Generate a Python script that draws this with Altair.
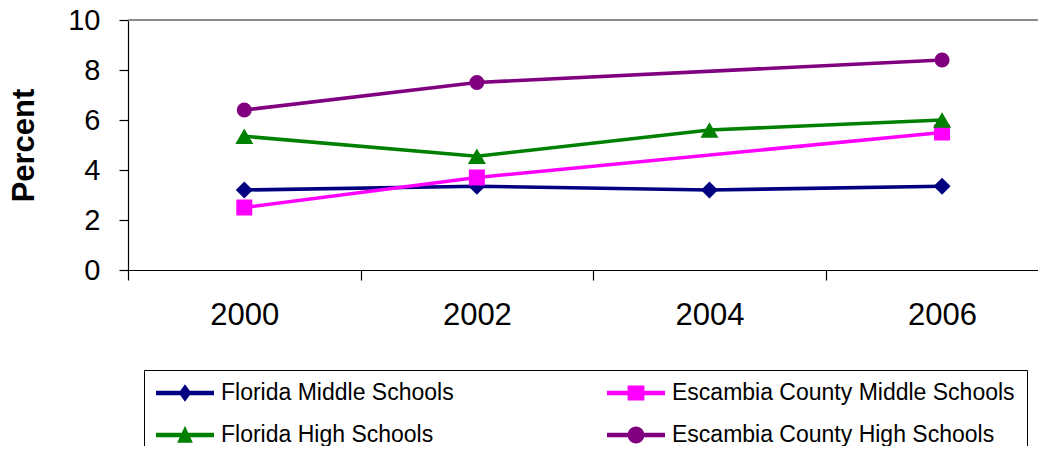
import altair as alt
import pandas as pd

# ---- data ----
years = [2000, 2002, 2004, 2006]
series_names = [
    "Florida Middle Schools",
    "Escambia County Middle Schools",
    "Florida High Schools",
    "Escambia County High Schools",
]
florida_middle = [3.2, 3.35, 3.2, 3.35]
escambia_middle = [2.5, 3.7, None, 5.5]
florida_high = [5.35, 4.55, 5.6, 6.0]
escambia_high = [6.4, 7.5, None, 8.4]

tick_years = [1999, 2000, 2001, 2002, 2003, 2004, 2005, 2006]
y_ticks = [0, 2, 4, 6, 8, 10]

# ---- styles ----
colors = ["#000080", "#FF00FF", "#008000", "#800080"]
plot_shapes = ["diamond", "square", "triangle-up", "circle"]
plot_sizes = [289, 256, 324, 227]
bar = "M-1,-0.075H1V0.075H-1Z"
legend_paths = [
    bar + "M0,-0.3L0.22,0L0,0.3L-0.22,0Z",
    bar + "M-0.29,-0.26H0.29V0.26H-0.29Z",
    bar + "M0,-0.32L0.27,0.27H-0.27Z",
    bar + "M-0.29,0A0.29,0.29 0 1,1 0.29,0A0.29,0.29 0 1,1 -0.29,0Z",
]
# legend fills column by column: column 1 = Florida, column 2 = Escambia
legend_order = [0, 2, 1, 3]

rows = []
for name, vals in zip(series_names, [florida_middle, escambia_middle, florida_high, escambia_high]):
    for yr, v in zip(years, vals):
        if v is not None:
            rows.append({"series": name, "year": yr, "value": v})
df = pd.DataFrame(rows)

FONT = "Liberation Sans"

x_enc = alt.X(
    "year:Q",
    scale=alt.Scale(domain=[1999, 2006.825], nice=False, zero=False),
    axis=alt.Axis(
        values=tick_years,
        labelExpr="datum.value % 2 == 0 ? format(datum.value, 'd') : ''",
        tickOpacity={"condition": {"test": "datum.value % 2 == 0", "value": 0}, "value": 1},
        title=None,
        tickSize=10,
        tickColor="black",
        tickWidth=1.2,
        domainColor="black",
        domainWidth=1.2,
        labelFontSize=31,
        labelPadding=20,
        labelColor="black",
        labelFont=FONT,
        grid=False,
        labelFlush=False,
        labelOverlap=False,
    ),
)
y_enc = alt.Y(
    "value:Q",
    scale=alt.Scale(domain=[0, 10], nice=False),
    axis=alt.Axis(
        values=y_ticks,
        tickSize=9,
        tickColor="black",
        tickWidth=1.2,
        domainColor="black",
        domainWidth=1.2,
        labelFontSize=29,
        labelPadding=19,
        labelColor="black",
        labelFont=FONT,
        title="Percent",
        titleFont=FONT,
        titleFontSize=31,
        titleFontWeight="bold",
        titleColor="black",
        titlePadding=27,
        grid=False,
    ),
)

base = alt.Chart(df)

top_border = alt.Chart(pd.DataFrame({"v": [10]})).mark_rule(
    color="#8c8c8c", strokeWidth=2
).encode(y=alt.Y("v:Q"))

layers = [top_border]
for name, col, shp, sz in zip(series_names, colors, plot_shapes, plot_sizes):
    sub = base.transform_filter(alt.datum.series == name)
    layers.append(sub.mark_line(strokeWidth=3.6, color=col).encode(x=x_enc, y=y_enc))
    layers.append(
        sub.mark_point(filled=True, opacity=1, shape=shp, size=sz, strokeWidth=0, color=col).encode(
            x=x_enc, y=y_enc
        )
    )

label_expr = "indexof(datum.label, 'Escambia') == 0 ? datum.label + ' ' : datum.label"
legend_def = alt.Legend(
    title=None,
    orient="none",
    legendX=16,
    legendY=350,
    columns=2,
    labelExpr=label_expr,
)

leg_domain = [series_names[i] for i in legend_order]
leg_colors = [colors[i] for i in legend_order]
leg_paths = [legend_paths[i] for i in legend_order]

legend_layer = base.mark_point(filled=True, opacity=0).encode(
    x=x_enc,
    y=y_enc,
    color=alt.Color("series:N", scale=alt.Scale(domain=leg_domain, range=leg_colors), legend=legend_def),
    shape=alt.Shape(
        "series:N",
        scale=alt.Scale(domain=leg_domain, range=leg_paths),
        legend=legend_def,
    ),
)
layers.append(legend_layer)

chart = (
    alt.layer(*layers)
    .properties(
        width=910,
        height=250,
        autosize=alt.AutoSizeParams(type="none"),
        padding={"left": 120, "top": 12, "right": 0, "bottom": 176},
    )
    .configure(font=FONT)
    .configure_view(strokeWidth=0)
    .configure_legend(
        strokeColor="black",
        padding=12,
        symbolSize=3364,
        symbolStrokeWidth=0,
        symbolOpacity=1,
        labelFontSize=23,
        labelFont=FONT,
        labelColor="black",
        labelOffset=7,
        labelLimit=600,
        columnPadding=153,
        rowPadding=19,
        clipHeight=22,
        gridAlign="each",
    )
)

chart.save("out.html", embed_options={"renderer": "svg", "actions": False})
